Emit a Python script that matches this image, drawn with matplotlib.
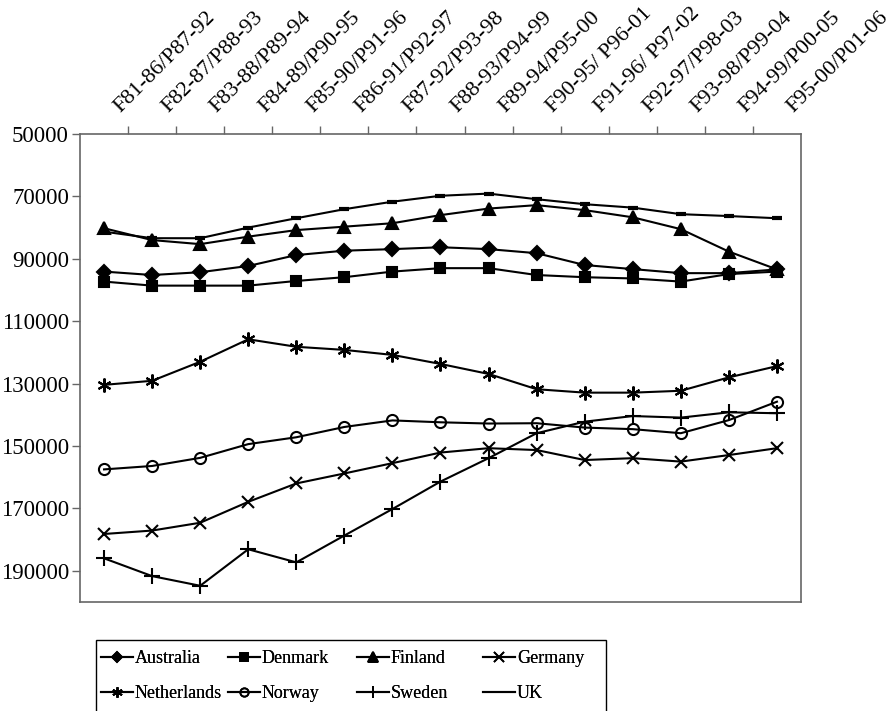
import matplotlib
matplotlib.use("Agg")
import matplotlib.pyplot as plt
import matplotlib.transforms as mtransforms
from matplotlib.lines import Line2D
from matplotlib.patches import Rectangle

periods = ["F81-86/P87-92", "F82-87/P88-93", "F83-88/P89-94", "F84-89/P90-95",
           "F85-90/P91-96", "F86-91/P92-97", "F87-92/P93-98", "F88-93/P94-99",
           "F89-94/P95-00", "F90-95/ P96-01", "F91-96/ P97-02", "F92-97/P98-03",
           "F93-98/P99-04", "F94-99/P00-05", "F95-00/P01-06"]

australia = [94100, 95200, 94300, 92300, 88800, 87400, 86900, 86300, 86900,
             88200, 92000, 93300, 94600, 94600, 93400]
denmark = [97300, 98600, 98600, 98600, 97100, 95900, 94100, 93000, 93000,
           95200, 95900, 96300, 97300, 94900, 94100]
finland = [80200, 84000, 85300, 82900, 80800, 79700, 78600, 76000, 73900,
           72800, 74400, 76700, 80500, 87700, 93400]
germany = [178200, 177100, 174600, 167900, 162000, 158800, 155500, 152100, 150700,
           151300, 154500, 153900, 155000, 152900, 150700]
netherlands = [130400, 129100, 123000, 115800, 118200, 119200, 120800, 123700, 126900,
               131800, 132900, 132900, 132300, 128000, 124400]
norway = [157500, 156400, 153800, 149400, 147200, 143900, 141800, 142400, 142800,
          142700, 144100, 144600, 145900, 141700, 135800]
sweden = [186000, 191700, 194800, 183100, 187300, 178700, 170200, 161400, 153900,
          145900, 142200, 140400, 140900, 139200, 139500]
uk = [81300, 83400, 83400, 80000, 77000, 74100, 71700, 69800, 69100,
      70900, 72500, 73600, 75700, 76300, 77000]

series = [
    ("Australia", australia, "D", 7, None),
    ("Denmark", denmark, "s", 7, None),
    ("Finland", finland, "^", 9, None),
    ("Germany", germany, "x", 9, None),
    ("Netherlands", netherlands, (6, 2, 0), 10, None),
    ("Norway", norway, "o", 8, "none"),
    ("Sweden", sweden, "+", 11, None),
    ("UK", uk, "_", 7, None),
]

plt.rcParams['font.family'] = ['Liberation Serif', 'DejaVu Serif']

W, H = 895, 711
fig = plt.figure(figsize=(W / 100, H / 100), dpi=100)
ax = fig.add_axes([80/W, 1-602/H, 721/W, 468/H])

x = list(range(len(periods)))
for name, vals, mk, ms, mfc in series:
    kw = dict(color='black', lw=1.5, marker=mk, markersize=ms,
              markeredgecolor='black', markeredgewidth=1.5,
              markerfacecolor=(mfc if mfc is not None else 'black'))
    if mk == "_":
        kw['markeredgewidth'] = 3
    ax.plot(x, vals, label=name, **kw)

ax.set_xlim(-0.5, len(periods) - 0.5)
ax.set_ylim(200000, 50000)
ax.set_yticks([50000, 70000, 90000, 110000, 130000, 150000, 170000, 190000])
ax.tick_params(axis='y', direction='out', length=6, width=1, color='#666666',
               labelsize=16.5, pad=2)

ax.set_xticks([])
ax.set_xticks([i + 0.5 for i in range(len(periods) - 1)], minor=True)
ax.tick_params(axis='x', which='minor', direction='out', length=6, width=1,
               color='#666666', top=True, bottom=False, labelbottom=False)
for sp in ax.spines.values():
    sp.set_color('#666666')
    sp.set_linewidth(1.2)

trans = mtransforms.blended_transform_factory(ax.transData, ax.transAxes) + \
    mtransforms.ScaledTranslation(12/72, 15/72, fig.dpi_scale_trans)
for i, lab in enumerate(periods):
    ax.text(i, 1.0, lab, transform=trans, rotation=45, rotation_mode='anchor',
            ha='left', va='baseline', fontsize=16)

# legend: boxed, four equally spaced columns, rows read left to right
fig.add_artist(Rectangle((96/W, -0.02), 510/W, (1-640/H) + 0.02,
                         transform=fig.transFigure, fill=False,
                         edgecolor='black', linewidth=1.0))
names = [s[0] for s in series]
handles = {}
for name, vals, mk, ms, mfc in series:
    handles[name] = Line2D([], [], color='black', lw=1.5, marker=mk,
                           markersize=ms * 0.75, markeredgecolor='black',
                           markeredgewidth=1.3,
                           markerfacecolor=(mfc if mfc is not None else 'black'))
col_x = [101, 228, 357, 483]
for c in range(4):
    labs = [names[c], names[c + 4]]
    lg = fig.legend([handles[n] for n in labs], labs, loc='upper left',
                    bbox_to_anchor=(col_x[c]/W, 1-650/H), frameon=False,
                    fontsize=13, handlelength=1.75, handletextpad=0.12,
                    borderpad=0, borderaxespad=0, labelspacing=1.0)
    fig.add_artist(lg)

fig.savefig("out.png", dpi=100)
